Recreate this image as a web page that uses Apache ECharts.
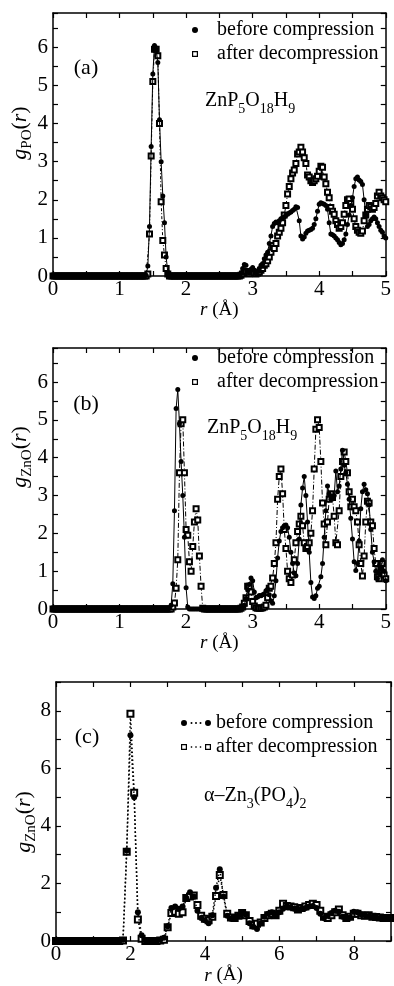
<!DOCTYPE html>
<html><head><meta charset="utf-8">
<script src="https://cdn.jsdelivr.net/npm/echarts@6.0.0/dist/echarts.min.js"></script>
<style>html,body{margin:0;padding:0;background:#fff}#c{width:394px;height:986px}</style>
</head><body><div id="c"></div>
<script>
const FONT = 'Liberation Serif';
const seriesNames = ['before compression', 'after decompression'];
const panelLabels = ['(a)', '(b)', '(c)'];
const xTitle = '{i|r} (Å)';
// radial grids (Å)
const stepAB = 0.025;   // panels (a), (b): r = 0 … 5
const stepC = 0.1;      // panel (c): r = 0 … 9

// ---- Panel (a) g_PO(r), ZnP5O18H9 ----
const gPO_before = [
  // r 0.000 – 1.375
  0,0,0,0,0,0,0,0,0,0, 0,0,0,0,0,0,0,0,0,0, 0,0,0,0,0,0,0,0,0,0, 0,0,0,0,0,0,0,0,0,0, 0,0,0,0,0,0,0,0,0,0, 0,0,0,0,0,0,
  // r 1.400 – 1.750
  0.02,0.26,1.3,3.4,5.3,6.05,5.95,5.6,4.1,3.0,2.1,1.4,0.5,0.1,0.01,
  // r 1.775 – 2.775
  0,0,0,0,0,0,0,0,0,0, 0,0,0,0,0,0,0,0,0,0, 0,0,0,0,0,0,0,0,0,0, 0,0,0,0,0,0,0,0,0,0, 0,
  // r 2.800 – 5.000
  0.02,0.08,0.2,0.3,0.28,0.12,0.08,0.18,0.22,0.15,
  0.08,0.12,0.2,0.28,0.32,0.45,0.55,0.62,0.85,1.05,
  1.3,1.38,1.42,1.4,1.45,1.5,1.52,1.55,1.6,1.62,
  1.65,1.68,1.72,1.75,1.82,1.8,1.45,1.05,0.97,1.02,
  1.12,1.18,1.2,1.22,1.25,1.35,1.5,1.7,1.88,1.92,
  1.9,1.88,1.85,1.75,1.4,1.1,1.08,1.05,1.0,0.95,
  0.88,0.82,0.85,0.95,1.1,1.35,1.6,1.85,2.05,2.35,
  2.55,2.6,2.52,2.48,2.4,2.0,1.6,1.3,1.35,1.45,
  1.5,1.55,1.5,1.4,1.3,1.2,1.15,1.05,1.0
];
const gPO_after = [
  0,0,0,0,0,0,0,0,0,0, 0,0,0,0,0,0,0,0,0,0, 0,0,0,0,0,0,0,0,0,0, 0,0,0,0,0,0,0,0,0,0, 0,0,0,0,0,0,0,0,0,0, 0,0,0,0,0,0,
  0,0.05,1.1,3.15,5.1,5.95,5.95,5.78,4.0,1.95,0.93,0.55,0.2,0.05,0,
  0,0,0,0,0,0,0,0,0,0, 0,0,0,0,0,0,0,0,0,0, 0,0,0,0,0,0,0,0,0,0, 0,0,0,0,0,0,0,0,0,0, 0,
  0,0.02,0.05,0.1,0.12,0.08,0.05,0.1,0.12,0.08,
  0.05,0.08,0.1,0.15,0.2,0.28,0.32,0.4,0.5,0.62,
  0.8,0.72,0.85,1.05,1.15,1.25,1.4,1.6,1.85,2.15,
  2.35,2.55,2.7,2.78,2.95,3.2,3.25,3.38,3.25,3.1,
  2.95,2.65,2.6,2.5,2.45,2.5,2.55,2.62,2.75,2.88,
  2.85,2.6,2.42,2.2,2.05,1.8,1.7,1.62,1.45,1.35,
  1.25,1.3,1.4,1.62,1.85,2.0,2.02,1.9,1.75,1.5,
  1.3,1.2,1.15,1.12,1.18,1.45,1.6,1.75,1.85,1.82,
  1.75,1.8,1.9,2.1,2.2,2.1,2.05,2.0,1.95
];

// ---- Panel (b) g_ZnO(r), ZnP5O18H9 ----
const gZnO_b_before = [
  // r 0.000 – 1.725
  0,0,0,0,0,0,0,0,0,0, 0,0,0,0,0,0,0,0,0,0, 0,0,0,0,0,0,0,0,0,0, 0,0,0,0,0,0,0,0,0,0, 0,0,0,0,0,0,0,0,0,0, 0,0,0,0,0,0,0,0,0,0, 0,0,0,0,0,0,0,0,0,0,
  // r 1.750 – 2.025
  0.02,0.1,0.67,2.6,5.3,5.8,4.9,3.9,3.0,1.9,0.56,0.05,
  // r 2.050 – 2.775
  0,0,0,0,0,0,0,0,0,0, 0,0,0,0,0,0,0,0,0,0, 0,0,0,0,0,0,0,0,0,0,
  // r 2.800 – 5.000
  0,0.02,0.05,0.1,0.28,0.5,0.65,0.82,0.75,0.45,
  0.3,0.32,0.36,0.35,0.38,0.4,0.48,0.52,0.38,0.22,
  0.15,0.35,0.75,1.35,1.8,2.05,2.15,2.2,2.22,2.15,
  1.9,1.5,1.2,0.95,0.88,1.2,1.85,2.75,3.2,3.5,
  3.0,2.3,1.5,0.7,0.32,0.28,0.35,0.55,0.6,0.85,
  1.2,1.9,2.6,3.25,3.05,2.9,2.95,3.0,3.65,3.1,
  3.25,3.7,4.2,3.8,3.6,3.3,2.9,2.4,1.85,1.25,
  1.02,1.2,1.8,2.65,3.1,3.3,3.15,3.05,2.75,2.1,
  1.5,1.25,1.0,0.8,0.95,1.1,1.3,1.0,0.75
];
const gZnO_b_after = [
  // r 0.000 – 1.775
  0,0,0,0,0,0,0,0,0,0, 0,0,0,0,0,0,0,0,0,0, 0,0,0,0,0,0,0,0,0,0, 0,0,0,0,0,0,0,0,0,0, 0,0,0,0,0,0,0,0,0,0, 0,0,0,0,0,0,0,0,0,0, 0,0,0,0,0,0,0,0,0,0, 0,0,
  // r 1.800 – 2.250
  0.05,0.16,0.55,1.3,3.6,4.9,5.0,3.6,2.1,1.95,1.25,1.0,1.65,2.3,2.65,2.35,1.4,0.6,0.02,
  // r 2.275 – 2.775
  0,0,0,0,0,0,0,0,0,0, 0,0,0,0,0,0,0,0,0,0, 0,
  // r 2.800 – 5.000
  0,0.02,0.05,0.15,0.3,0.6,0.6,0.45,0.2,0.08,
  0.03,0.02,0.02,0.02,0.03,0.05,0.1,0.3,0.55,0.6,
  0.82,1.2,1.75,2.9,3.5,3.7,3.05,2.1,1.6,1.0,
  0.8,0.7,0.9,1.3,1.75,2.05,2.25,2.45,2.2,1.75,
  1.6,1.65,1.75,2.0,2.6,3.7,4.75,5.0,4.8,3.9,
  2.8,2.25,1.7,2.3,2.9,3.05,2.95,2.45,1.75,1.7,
  2.6,3.5,3.9,4.15,3.9,3.6,3.1,2.7,2.9,2.7,
  2.6,2.3,1.7,1.2,0.87,1.4,2.3,2.85,2.8,2.3,
  2.2,1.6,1.2,0.85,0.8,1.1,1.2,0.9,0.8
];

// ---- Panel (c) g_ZnO(r), alpha-Zn3(PO4)2 ----
const gZnO_c_before = [
  0,0,0,0,0,0,0,0,0,0, 0,0,0,0,0,0,0,0,
  0.05,3.15,7.15,5.0,1.0,0.2,0.02,0,0,0,0.05,0.12,
  0.52,1.15,1.2,1.12,1.2,1.5,1.7,1.55,1.05,0.8,
  0.72,0.62,0.9,1.85,2.5,1.55,0.88,0.78,0.8,0.88,
  1.0,0.92,0.62,0.5,0.42,0.62,0.85,0.95,1.0,0.88,
  1.0,1.12,1.2,1.18,1.12,1.1,1.12,1.15,1.2,1.22,
  1.15,0.95,0.8,0.88,0.98,1.05,1.02,0.85,0.78,0.82,
  1.02,1.0,0.92,0.9,0.87,0.84,0.82,0.8,0.8,0.79,
  0.8
];
const gZnO_c_after = [
  0,0,0,0,0,0,0,0,0,0, 0,0,0,0,0,0,0,0,
  0.02,3.1,7.9,5.15,0.75,0.08,0,0,0,0,0.02,0.05,
  0.48,0.98,1.02,0.95,1.0,1.5,1.55,1.58,1.25,0.88,
  0.78,0.72,0.85,1.57,2.3,1.6,0.95,0.82,0.8,0.88,
  0.98,0.9,0.7,0.55,0.6,0.65,0.8,0.9,0.95,0.9,
  1.05,1.3,1.22,1.2,1.18,1.1,1.15,1.2,1.25,1.3,
  1.25,1.05,0.85,0.8,0.9,1.0,1.1,0.9,0.8,0.85,
  0.95,0.95,0.9,0.88,0.9,0.85,0.84,0.82,0.8,0.8,
  0.8
];

function pts(arr, step) {
  return arr.map((v, i) => [Math.round(i * step * 10000) / 10000, v]);
}

const chart = echarts.init(document.getElementById('c'), null, {renderer: 'canvas'});

const grids = [
  {left: 53, top: 13, width: 335, height: 263},
  {left: 53, top: 348, width: 335, height: 261},
  {left: 56, top: 682, width: 336, height: 260}
];
const axisLine = {show: true, onZero: false, lineStyle: {color: '#000', width: 1.5}};
const tick = {show: true, inside: true, length: 5, lineStyle: {color: '#000', width: 1.2}};
const lab = {color: '#000', fontFamily: FONT, fontSize: 21};
const intFmt = v => (Math.abs(v - Math.round(v)) < 1e-6 ? String(Math.round(v)) : '');
const evenFmt = v => (Math.abs(v - Math.round(v)) < 1e-6 && Math.round(v) % 2 === 0 ? String(Math.round(v)) : '');

const xAxis = [], yAxis = [];
function addAxes(gi, xmax, xint, xfmt, ymax, yint, yfmt, gap) {
  xAxis.push({type: 'value', gridIndex: gi, position: 'bottom', min: 0, max: xmax, interval: xint,
    axisLine, axisTick: tick, splitLine: {show: false},
    axisLabel: Object.assign({}, lab, {margin: 3, formatter: xfmt}),
    name: xTitle, nameLocation: 'middle', nameGap: gap,
    nameTextStyle: {color: '#000', fontFamily: FONT, fontSize: 19,
      rich: {i: {fontStyle: 'italic', fontFamily: FONT, fontSize: 19, color: '#000'}}}});
  xAxis.push({type: 'value', gridIndex: gi, position: 'top', min: 0, max: xmax, interval: xint,
    axisLine, axisTick: tick, splitLine: {show: false}, axisLabel: {show: false}});
  yAxis.push({type: 'value', gridIndex: gi, position: 'left', min: 0, max: ymax, interval: yint,
    axisLine, axisTick: tick, splitLine: {show: false},
    axisLabel: Object.assign({}, lab, {margin: 5, formatter: yfmt})});
  yAxis.push({type: 'value', gridIndex: gi, position: 'right', min: 0, max: ymax, interval: yint,
    axisLine, axisTick: tick, splitLine: {show: false}, axisLabel: {show: false}});
}
addAxes(0, 5, 0.5, intFmt, 6.9, 0.5, intFmt, 22);
addAxes(1, 5, 0.5, intFmt, 6.9, 0.5, intFmt, 22);
addAxes(2, 9, 1, evenFmt, 9, 1, evenFmt, 20);

function mk(name, gi, data, step, kind, dash, symSize, lw) {
  const s = {name, type: 'line', xAxisIndex: gi * 2, yAxisIndex: gi * 2, data: pts(data, step),
    showAllSymbol: true, silent: true, animation: false,
    lineStyle: {color: '#000', width: lw, type: dash}, emphasis: {disabled: true}};
  if (kind === 'circle') { s.symbol = 'circle'; s.symbolSize = symSize; s.itemStyle = {color: '#000'}; s.z = 3; }
  else { s.symbol = 'emptyRect'; s.symbolSize = symSize; s.itemStyle = {color: '#000', borderWidth: 1}; s.z = 2; }
  return s;
}
const series = [
  mk(seriesNames[1], 0, gPO_after, stepAB, 'rect', [3, 2, 1, 2], 5, 1),
  mk(seriesNames[0], 0, gPO_before, stepAB, 'circle', 'solid', 5, 1),
  mk(seriesNames[1], 1, gZnO_b_after, stepAB, 'rect', [5, 2, 1, 2], 5, 1),
  mk(seriesNames[0], 1, gZnO_b_before, stepAB, 'circle', 'solid', 5, 1),
  mk(seriesNames[1], 2, gZnO_c_after, stepC, 'rect', [1.5, 2.5], 6, 1.5),
  mk(seriesNames[0], 2, gZnO_c_before, stepC, 'circle', [1.5, 2.5], 6, 1.5)
];

const ringSq = 'path://M0,0L6,0L6,6L0,6Z M1.2,1.2L1.2,4.8L4.8,4.8L4.8,1.2Z';
const dotCircle = 'path://M0,3A3,3,0,1,1,6,3A3,3,0,1,1,0,3Z M9.5,3A1,1,0,1,1,11.5,3A1,1,0,1,1,9.5,3Z M14,3A1,1,0,1,1,16,3A1,1,0,1,1,14,3Z M18.5,3A1,1,0,1,1,20.5,3A1,1,0,1,1,18.5,3Z M24,3A3,3,0,1,1,30,3A3,3,0,1,1,24,3Z';
const dotSquare = 'path://M0,0L6,0L6,6L0,6Z M1.2,1.2L1.2,4.8L4.8,4.8L4.8,1.2Z M9.8,2.3L11.2,2.3L11.2,3.7L9.8,3.7Z M14.3,2.3L15.7,2.3L15.7,3.7L14.3,3.7Z M18.8,2.3L20.2,2.3L20.2,3.7L18.8,3.7Z M24,0L30,0L30,6L24,6Z M25.2,1.2L25.2,4.8L28.8,4.8L28.8,1.2Z';
const legStyle = {color: '#000', fontFamily: FONT, fontSize: 20, lineHeight: 24};
const blackIcon = {color: '#000', borderWidth: 0};
function leg(left, top, w, icons) {
  return {orient: 'vertical', left, top, padding: 0, itemGap: 0, itemWidth: w, itemHeight: 6,
    selectedMode: false, textStyle: legStyle,
    data: [{name: seriesNames[0], icon: icons[0], itemStyle: blackIcon},
           {name: seriesNames[1], icon: icons[1], itemStyle: blackIcon}]};
}
const legend = [
  leg(192, 18, 34, ['circle', ringSq]),
  leg(192, 346, 34, ['circle', ringSq]),
  leg(181, 711, 30, [dotCircle, dotSquare])
];

const baseRich = {
  n: {fontFamily: FONT, fontSize: 20, lineHeight: 30},
  s: {fontFamily: FONT, fontSize: 14, lineHeight: 12, verticalAlign: 'bottom'}
};
const nameRich = {
  g: {fontFamily: FONT, fontStyle: 'italic', fontSize: 22, lineHeight: 30},
  n: {fontFamily: FONT, fontSize: 22, lineHeight: 30},
  s: {fontFamily: FONT, fontSize: 15, lineHeight: 12, verticalAlign: 'bottom'}
};
function txt(x, y, text, rich, size) {
  return {type: 'text', x, y, silent: true,
    style: {text, fontFamily: FONT, fontSize: size || 20, fill: '#000', align: 'left', verticalAlign: 'middle', rich}};
}
function yname(x, y, text) {
  return {type: 'text', x, y, rotation: Math.PI / 2, silent: true,
    style: {text, fontFamily: FONT, fontSize: 22, fill: '#000', align: 'center', verticalAlign: 'middle', rich: nameRich}};
}
const graphic = [
  {type: 'text', x: 86, y: 68, silent: true, style: {text: panelLabels[0], fontFamily: FONT, fontSize: 22, fill: '#000', align: 'center', verticalAlign: 'middle'}},
  {type: 'text', x: 86, y: 404, silent: true, style: {text: panelLabels[1], fontFamily: FONT, fontSize: 22, fill: '#000', align: 'center', verticalAlign: 'middle'}},
  {type: 'text', x: 87, y: 737, silent: true, style: {text: panelLabels[2], fontFamily: FONT, fontSize: 22, fill: '#000', align: 'center', verticalAlign: 'middle'}},
  txt(205, 101, '{n|ZnP}{s|5}{n|O}{s|18}{n|H}{s|9}', baseRich),
  txt(207, 428, '{n|ZnP}{s|5}{n|O}{s|18}{n|H}{s|9}', baseRich),
  txt(204, 796, '{n|α–Zn}{s|3}{n|(PO}{s|4}{n|)}{s|2}', baseRich),
  yname(20, 133, '{g|g}{s|PO}{n|(}{g|r}{n|)}'),
  yname(20, 457, '{g|g}{s|ZnO}{n|(}{g|r}{n|)}'),
  yname(24, 822, '{g|g}{s|ZnO}{n|(}{g|r}{n|)}')
];

chart.setOption({
  backgroundColor: '#fff',
  animation: false,
  grid: grids,
  xAxis, yAxis, series, legend, graphic
});
</script>
</body></html>
